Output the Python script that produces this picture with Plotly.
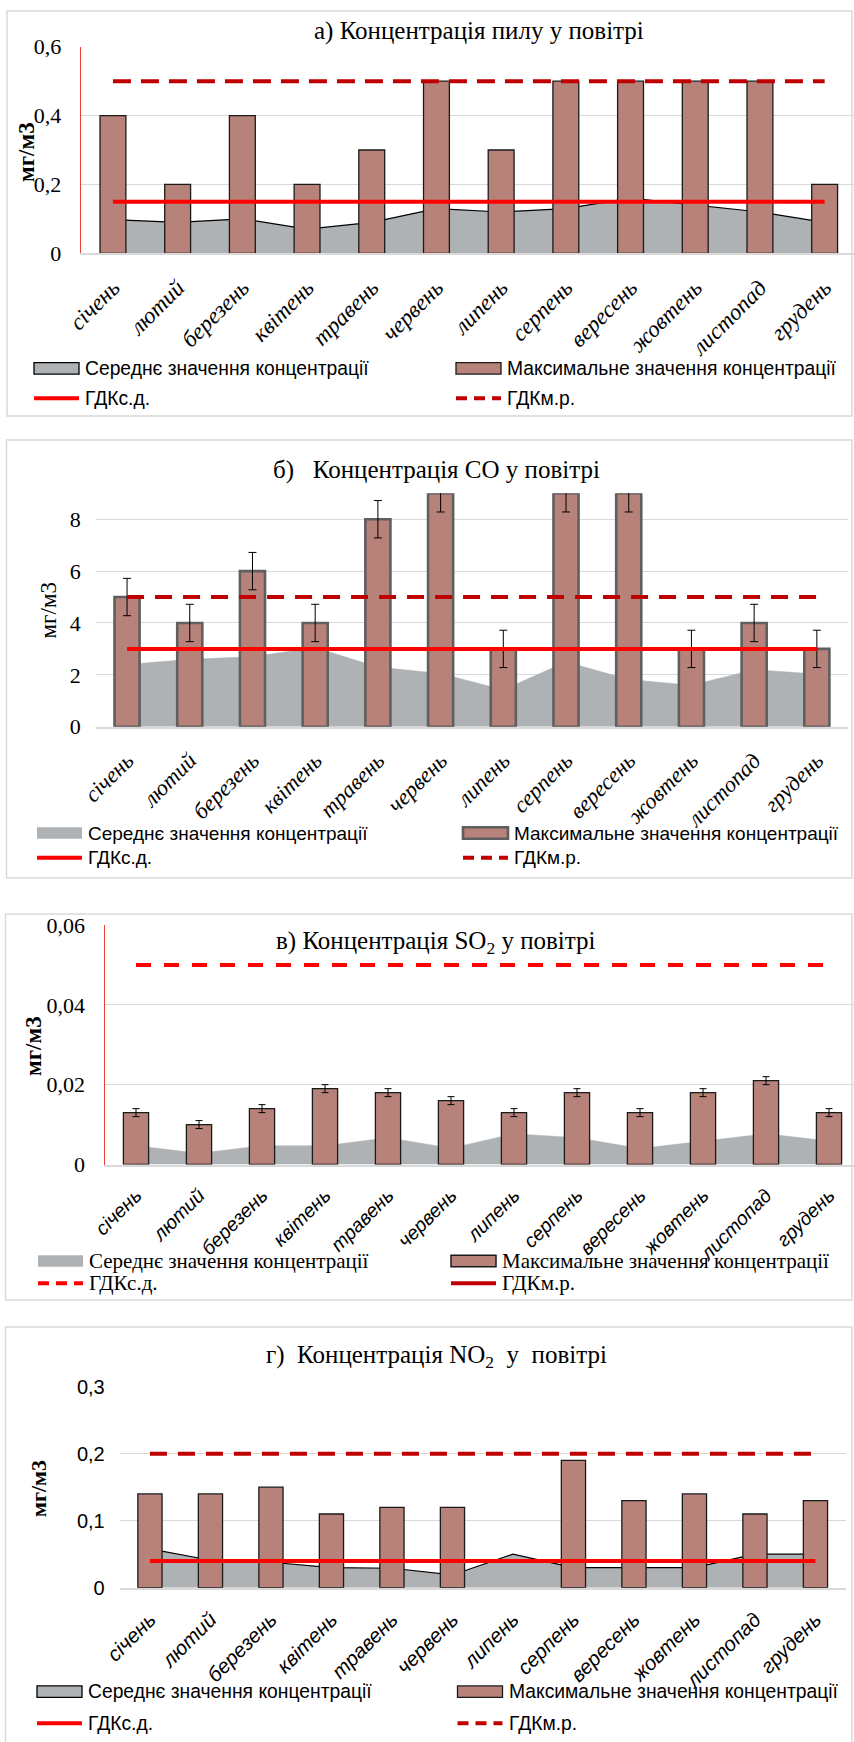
import plotly.graph_objects as go

W, H = 854, 1742

# ---------------- data ----------------
months = ["січень", "лютий", "березень", "квітень", "травень", "червень",
          "липень", "серпень", "вересень", "жовтень", "листопад", "грудень"]

# а) пил
dust_mean = [0.098, 0.09, 0.1, 0.07, 0.09, 0.13, 0.12, 0.13, 0.16, 0.14, 0.12, 0.09]
dust_max = [0.4, 0.2, 0.4, 0.2, 0.3, 0.5, 0.3, 0.5, 0.5, 0.5, 0.5, 0.2]
dust_gdk_sd = [0.15, 0.15, 0.15, 0.15, 0.15, 0.15, 0.15, 0.15, 0.15, 0.15, 0.15, 0.15]
dust_gdk_mr = [0.5, 0.5, 0.5, 0.5, 0.5, 0.5, 0.5, 0.5, 0.5, 0.5, 0.5, 0.5]

# б) CO
co_mean = [2.4, 2.6, 2.7, 3.05, 2.3, 2.05, 1.42, 2.5, 1.82, 1.6, 2.2, 2.03]
co_max = [5, 4, 6, 4, 8, 9, 3, 9, 9, 3, 4, 3]
co_err = [0.72, 0.72, 0.72, 0.72, 0.72, 0.72, 0.72, 0.72, 0.72, 0.72, 0.72, 0.72]
co_gdk_sd = [3, 3, 3, 3, 3, 3, 3, 3, 3, 3, 3, 3]
co_gdk_mr = [5, 5, 5, 5, 5, 5, 5, 5, 5, 5, 5, 5]

# в) SO2
so2_mean = [0.0047, 0.0028, 0.0047, 0.0047, 0.0067, 0.0041, 0.0077, 0.0067, 0.004, 0.0059, 0.0077, 0.0059]
so2_max = [0.013, 0.010, 0.014, 0.019, 0.018, 0.016, 0.013, 0.018, 0.013, 0.018, 0.021, 0.013]
so2_err = [0.001, 0.001, 0.001, 0.001, 0.001, 0.001, 0.001, 0.001, 0.001, 0.001, 0.001, 0.001]
so2_gdk_sd = [0.05, 0.05, 0.05, 0.05, 0.05, 0.05, 0.05, 0.05, 0.05, 0.05, 0.05, 0.05]
so2_gdk_mr = [0.5, 0.5, 0.5, 0.5, 0.5, 0.5, 0.5, 0.5, 0.5, 0.5, 0.5, 0.5]

# г) NO2
no2_mean = [0.058, 0.041, 0.038, 0.03, 0.029, 0.019, 0.05, 0.03, 0.03, 0.03, 0.05, 0.05]
no2_max = [0.14, 0.14, 0.15, 0.11, 0.12, 0.12, None, 0.19, 0.13, 0.14, 0.11, 0.13]
no2_gdk_sd = [0.04, 0.04, 0.04, 0.04, 0.04, 0.04, 0.04, 0.04, 0.04, 0.04, 0.04, 0.04]
no2_gdk_mr = [0.2, 0.2, 0.2, 0.2, 0.2, 0.2, 0.2, 0.2, 0.2, 0.2, 0.2, 0.2]

titles = ["а) Концентрація пилу у повітрі",
          "б)\u00a0\u00a0 Концентрація СО у повітрі",
          "в) Концентрація SO<sub>2</sub> у повітрі",
          "г)\u00a0 Концентрація NO<sub>2</sub>\u00a0 у\u00a0 повітрі"]
yunit = "мг/м3"
name_mean = "Середнє значення концентрації"
name_max = "Максимальне значення концентрації"
name_sd = "ГДКс.д."
name_mr = "ГДКм.р."

# ---------------- styles ----------------
SERIF = "Liberation Serif, Times New Roman, serif"
SANS = "Liberation Sans, Arial, sans-serif"
GREY = "#afb2b5"
BAR = "#b7827a"
RED = "#ff0000"
DRED = "#c00000"


def fx(px):
    return px / W


def fy(px):
    return 1 - px / H


panels = [
    dict(mean=dust_mean, mx=dust_max, err=None, sd=dust_gdk_sd, mr=dust_gdk_mr,
         xd=(80.6, 854), xr=(-0.5, -0.5 + (854 - 80.6) / 64.7), yd=(46.7, 253.3), yr=(0, 0.6), dtick=0.2,
         area_line="black", bar_line=("#1a1a1a", 1.3), sd_dash="solid", sd_col=RED, mr_dash="18px,10px", mr_col=DRED,
         yaxisline=True, tickfont=SERIF, xfont=SERIF, xsize=23, legfont=SANS, legsize=19.3,
         title_xy=(479, 31.5), ytitle_xy=(27, 152), ytitle_bold=True, ytitle_size=23,
         box=(7, 11, 852, 416), leg_rows=(368.3, 398.3), leg_cols=(34, 456),
         leg_mean_line="black", leg_max_line=("#1a1a1a", 1.3), bar_w=0.4, cap=4),
    dict(mean=co_mean, mx=co_max, err=co_err, sd=co_gdk_sd, mr=co_gdk_mr,
         xd=(95.7, 848.2), xr=(-0.5, 11.5), yd=(493.3, 726.7), yr=(0, 9), dtick=2,
         area_line=None, bar_line=("#5f5f5f", 2.6), sd_dash="solid", sd_col=RED, mr_dash="17px,11px", mr_col=DRED,
         yaxisline=False, tickfont=SERIF, xfont=SERIF, xsize=22.5, legfont=SANS, legsize=19,
         title_xy=(436, 470), ytitle_xy=(47.5, 611), ytitle_bold=False, ytitle_size=23,
         box=(6.5, 440, 852, 878), leg_rows=(833, 857.7), leg_cols=(37, 463),
         leg_mean_line=None, leg_max_line=("#5f5f5f", 2.6), bar_w=0.4, cap=4),
    dict(mean=so2_mean, mx=so2_max, err=so2_err, sd=so2_gdk_sd, mr=so2_gdk_mr,
         xd=(104.5, 854), xr=(-0.5, -0.5 + (854 - 104.5) / 63), yd=(925, 1164.5), yr=(0, 0.06), dtick=0.02,
         area_line=None, bar_line=("#1a1a1a", 1.3), sd_dash="15px,13px", sd_col=RED, mr_dash="solid", mr_col=DRED,
         yaxisline=True, tickfont=SERIF, xfont=SANS, xsize=19.5, legfont=SERIF, legsize=21,
         title_xy=(436, 942.7), ytitle_xy=(33, 1046), ytitle_bold=True, ytitle_size=23,
         box=(5.5, 914, 852, 1300), leg_rows=(1261, 1283.3), leg_cols=(38, 451),
         leg_mean_line=None, leg_max_line=("#1a1a1a", 1.5), bar_w=0.4, cap=3.5),
    dict(mean=no2_mean, mx=no2_max, err=None, sd=no2_gdk_sd, mr=no2_gdk_mr,
         xd=(119.7, 845.7), xr=(-0.5, 11.5), yd=(1386.7, 1587.7), yr=(0, 0.3), dtick=0.1,
         area_line="black", bar_line=("#1a1a1a", 1.3), sd_dash="solid", sd_col=RED, mr_dash="17px,11px", mr_col=DRED,
         yaxisline=False, tickfont=SANS, xfont=SANS, xsize=20.5, legfont=SANS, legsize=19.3,
         title_xy=(436, 1356.7), ytitle_xy=(38, 1489), ytitle_bold=True, ytitle_size=22,
         box=(5.5, 1327, 852, 1746), leg_rows=(1691.7, 1723.3), leg_cols=(37, 457.5),
         leg_mean_line="black", leg_max_line=("#1a1a1a", 1.3), bar_w=0.4, cap=4),
]

fig = go.Figure()
layout = dict(width=W, height=H, margin=dict(l=0, r=0, t=0, b=0, autoexpand=False),
              paper_bgcolor="white", plot_bgcolor="white", showlegend=False,
              separators=", ", barmode="overlay")
shapes = []
annotations = []

for k, p in enumerate(panels, start=1):
    xname = "x" if k == 1 else f"x{k}"
    yname = "y" if k == 1 else f"y{k}"
    y2name = f"y{k + 4}"
    xkey = "xaxis" if k == 1 else f"xaxis{k}"
    ykey = "yaxis" if k == 1 else f"yaxis{k}"
    y2key = f"yaxis{k + 4}"

    # area (mean) on the main subplot -> drawn below bars
    fig.add_trace(go.Scatter(
        x=months, y=p["mean"], name=name_mean, mode="lines", fill="tozeroy",
        fillcolor=GREY,
        line=dict(color=p["area_line"] or GREY, width=1.2 if p["area_line"] else 0.5),
        xaxis=xname, yaxis=yname, hoverinfo="x+y"))

    # bars (max) on overlay subplot
    bar_kw = dict(x=months, y=p["mx"], name=name_max, width=p["bar_w"],
                  marker=dict(color=BAR, line=dict(color=p["bar_line"][0], width=p["bar_line"][1])),
                  xaxis=xname, yaxis=y2name)
    if p["err"] is not None:
        bar_kw["error_y"] = dict(type="data", array=p["err"], visible=True, color="black",
                                 thickness=1, width=p["cap"])
    fig.add_trace(go.Bar(**bar_kw))

    fig.add_trace(go.Scatter(x=months, y=p["sd"], name=name_sd, mode="lines",
                             line=dict(color=p["sd_col"], width=4, dash=p["sd_dash"]),
                             xaxis=xname, yaxis=y2name))
    fig.add_trace(go.Scatter(x=months, y=p["mr"], name=name_mr, mode="lines",
                             line=dict(color=p["mr_col"], width=4, dash=p["mr_dash"]),
                             xaxis=xname, yaxis=y2name))

    xdom = [fx(p["xd"][0]), fx(p["xd"][1])]
    ydom = [fy(p["yd"][1]), fy(p["yd"][0])]

    layout[xkey] = dict(domain=xdom, anchor=yname, range=list(p["xr"]), type="category",
                        tickangle=-45, ticks="", showgrid=False, ticklabelstandoff=10,
                        showline=True, linecolor="#d9d9d9", linewidth=1.5,
                        tickfont=dict(family=p["xfont"], size=p["xsize"], color="black", style="italic"),
                        fixedrange=True)
    layout[ykey] = dict(domain=ydom, anchor=xname, range=list(p["yr"]), dtick=p["dtick"], tick0=0,
                        showgrid=True, gridcolor="#d9d9d9", gridwidth=1.3, zeroline=False,
                        ticks="", ticklabelstandoff=14,
                        showline=p["yaxisline"], linecolor="#e8413c", linewidth=1,
                        tickfont=dict(family=p["tickfont"], size=20 if p["tickfont"] == SANS else 22, color="black"),
                        fixedrange=True)
    layout[y2key] = dict(overlaying=yname, anchor=xname, range=list(p["yr"]), visible=False,
                         showgrid=False, zeroline=False, fixedrange=True)

    # panel border
    bx0, by0, bx1, by1 = p["box"]
    shapes.append(dict(type="rect", xref="paper", yref="paper",
                       x0=fx(bx0), x1=fx(bx1), y0=fy(by1), y1=fy(by0),
                       line=dict(color="#d9d9d9", width=1.5), fillcolor="rgba(0,0,0,0)", layer="below"))

    # title
    annotations.append(dict(text=titles[k - 1], xref="paper", yref="paper",
                            x=fx(p["title_xy"][0]), y=fy(p["title_xy"][1]),
                            xanchor="center", yanchor="middle", showarrow=False,
                            font=dict(family=SERIF, size=25, color="black")))
    # y-axis title
    annotations.append(dict(text=yunit, xref="paper", yref="paper",
                            x=fx(p["ytitle_xy"][0]), y=fy(p["ytitle_xy"][1]),
                            xanchor="center", yanchor="middle", showarrow=False, textangle=-90,
                            font=dict(family=SERIF, size=p["ytitle_size"], color="black",
                                      weight="bold" if p["ytitle_bold"] else "normal")))

    # legend (manual)
    r1, r2 = p["leg_rows"]
    c1, c2 = p["leg_cols"]
    sw, sh = 45, 11.5
    lf = dict(family=p["legfont"], size=p["legsize"], color="black")
    shapes.append(dict(type="rect", xref="paper", yref="paper",
                       x0=fx(c1), x1=fx(c1 + sw), y0=fy(r1 + sh / 2), y1=fy(r1 - sh / 2),
                       fillcolor=GREY,
                       line=dict(color=p["leg_mean_line"] or GREY, width=1.3 if p["leg_mean_line"] else 0)))
    shapes.append(dict(type="rect", xref="paper", yref="paper",
                       x0=fx(c2), x1=fx(c2 + sw), y0=fy(r1 + sh / 2), y1=fy(r1 - sh / 2),
                       fillcolor=BAR, line=dict(color=p["leg_max_line"][0], width=p["leg_max_line"][1])))
    shapes.append(dict(type="line", xref="paper", yref="paper",
                       x0=fx(c1), x1=fx(c1 + sw), y0=fy(r2), y1=fy(r2),
                       line=dict(color=p["sd_col"], width=4,
                                 dash="11px,7px" if p["sd_dash"] != "solid" else "solid")))
    shapes.append(dict(type="line", xref="paper", yref="paper",
                       x0=fx(c2), x1=fx(c2 + sw), y0=fy(r2), y1=fy(r2),
                       line=dict(color=p["mr_col"], width=4,
                                 dash="11px,7px" if p["mr_dash"] != "solid" else "solid")))
    for txt, cx, ry in [(name_mean, c1, r1), (name_max, c2, r1), (name_sd, c1, r2), (name_mr, c2, r2)]:
        annotations.append(dict(text=txt, xref="paper", yref="paper",
                                x=fx(cx + sw + 4), y=fy(ry), xanchor="left", yanchor="middle",
                                showarrow=False, font=lf))

layout["shapes"] = shapes
layout["annotations"] = annotations
fig.update_layout(**layout)

fig.write_html("out.html", include_plotlyjs=True, config={"displayModeBar": False},
               post_script="document.body.style.margin='0px';"
                           "document.body.style.padding='0px';"
                           "document.documentElement.style.overflow='hidden';")
